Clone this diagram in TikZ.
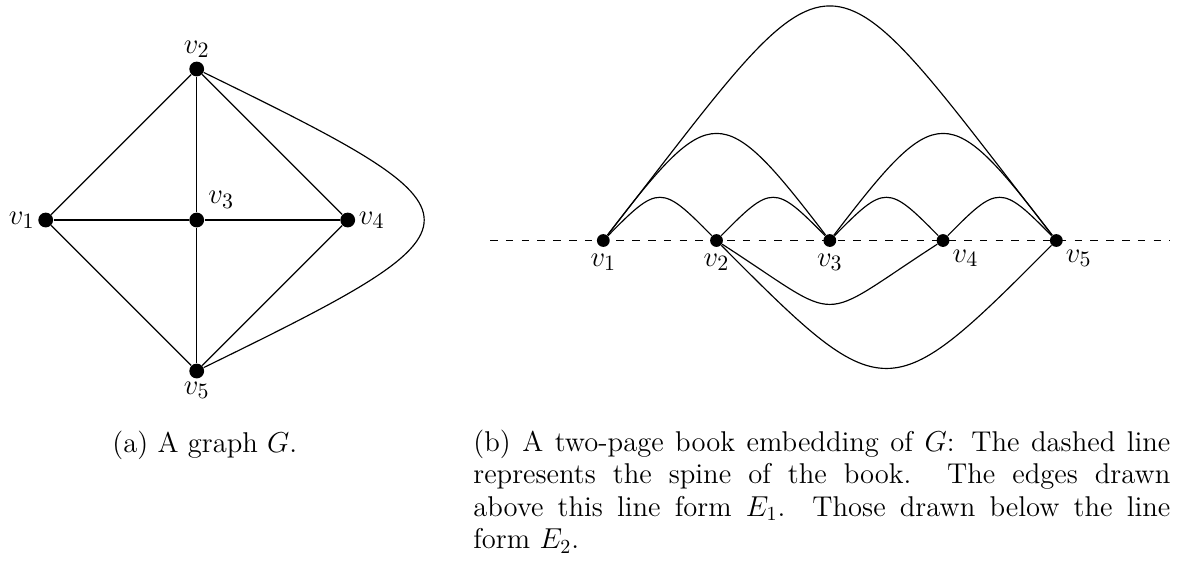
\documentclass[tikz,border=0pt]{standalone}
\usetikzlibrary{positioning}
\tikzset{
  vtx/.style  ={circle, fill, inner sep=0pt, minimum size=7.4pt},
  bvtx/.style ={vtx, minimum size=6.4pt},
  lbl/.style  ={font=\fontsize{15}{18}\selectfont, inner sep=1.5pt},
  edge/.style ={line width=0.58pt},
  spine/.style={line width=0.58pt, dash pattern=on 3.8pt off 4.1pt},
  capt/.style ={font=\fontsize{14.3}{16.3}\selectfont, inner sep=0pt}
}

\begin{document}
\begin{tikzpicture}[x=0.5pt,y=-0.5pt]
  \useasboundingbox (0,0) rectangle (1200,570);

  % (a) the graph G
  \node[vtx, label={[lbl]left:$v_1$}](a1) at (45.7,220){};
  \node[vtx, label={[lbl]above:$v_2$}](a2) at (196.7,69){};
  \node[vtx, label={[lbl,label distance=2pt]above right:$v_3$}](a3) at (196.7,220){};
  \node[vtx, label={[lbl]right:$v_4$}](a4) at (347.7,220){};
  \node[vtx, label={[lbl]below:$v_5$}](a5) at (196.7,371){};

  \draw[edge](a1)--(a2);\draw[edge](a1)--(a3);\draw[edge](a1)--(a5);
  \draw[edge](a2)--(a3);\draw[edge](a2)--(a4);
  \draw[edge](a3)--(a4);\draw[edge](a3)--(a5);
  \draw[edge](a4)--(a5);
  \draw[edge](a2) .. controls +(301,147) and +(301,-147) .. (a5);

  % (b) the book embedding
  \coordinate (sl) at (490,240.5);
  \coordinate (sr) at (1170,240.5);
  \draw[spine](sl)--(sr);

  \node[bvtx, label={[lbl,label distance=1.5pt]below:$v_1$}](b1) at (603.3,240.5){};
  \node[bvtx, label={[lbl,label distance=1.5pt]below:$v_2$}](b2) at (716.5,240.5){};
  \node[bvtx, label={[lbl,label distance=1.5pt]below:$v_3$}](b3) at (829.8,240.5){};
  \node[bvtx, label={[lbl,label distance=1pt]below right:$v_4$}](b4) at (943,240.5){};
  \node[bvtx, label={[lbl,label distance=1pt]below right:$v_5$}](b5) at (1056.3,240.5){};

  % page E_1, above the spine
  \foreach \i/\j in {b1/b2, b2/b3, b3/b4, b4/b5}
    \draw[edge](\i) .. controls +(55,-56) and +(-55,-56) .. (\j);
  \draw[edge](b1) .. controls +(108,-141) and +(-108,-141) .. (b3);
  \draw[edge](b3) .. controls +(108,-141) and +(-108,-141) .. (b5);
  \draw[edge](b1) .. controls +(242,-311) and +(-242,-311) .. (b5);

  % page E_2, below the spine
  \draw[edge](b2) .. controls +(130,84) and +(-130,84) .. (b4);
  \draw[edge](b2) .. controls +(168,169) and +(-168,169) .. (b5);

  % captions
  \node[capt, anchor=base west](capa) at (112,452){(a) A graph $G$.};
  \node[capt, anchor=base west, text width=348.5pt, align=justify](capb) at (473,451){%
    \noindent\hangindent=24.35pt\hangafter=1
    (b) A two-page book embedding of $G$: The dashed line\linebreak
    represents the spine of the book. The edges drawn\linebreak
    above this line form $E_1$. Those drawn below the line\linebreak
    form $E_2$.};
\end{tikzpicture}
\end{document}
